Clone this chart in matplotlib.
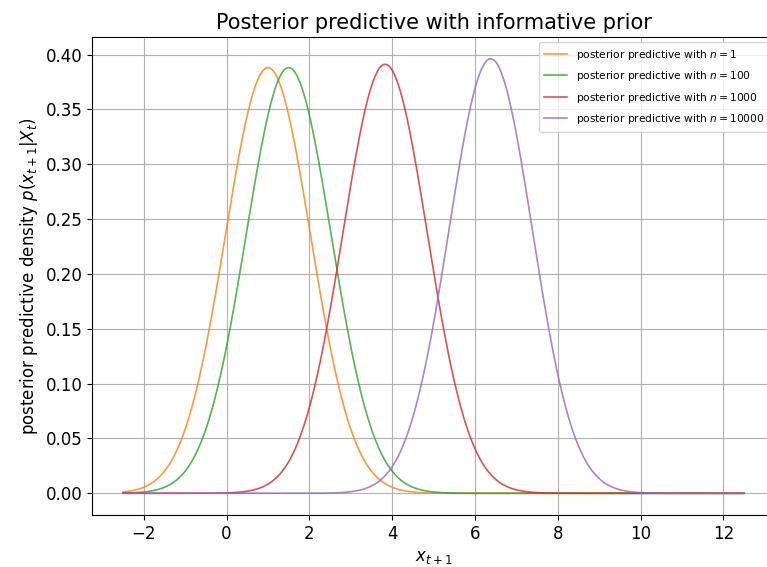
import numpy as np
import matplotlib.pyplot as plt

# posterior predictive N(mean, sd) for a growing number of observations
n_obs = [1, 100, 1000, 10000]
pred_mean = [1.0, 1.5, 3.83, 6.38]
pred_sd = [1.028, 1.028, 1.020, 1.007]
colors = ['C1', 'C2', 'C3', 'C4']

plt.rcParams['font.size'] = 12

x = np.linspace(-2.5, 12.5, 1000)

fig = plt.figure(figsize=(7.67, 5.67), dpi=100)
ax = fig.add_axes([0.12, 0.0917, 0.8905, 0.843])

for n, m, s, c in zip(n_obs, pred_mean, pred_sd, colors):
    dens = np.exp(-0.5 * ((x - m) / s) ** 2) / (s * np.sqrt(2 * np.pi))
    ax.plot(x, dens, color=c, alpha=0.8, lw=1.2,
            label=r'posterior predictive with $n=%d$' % n)

ax.grid(True)
ax.set_xticks(np.arange(-2, 13, 2))
ax.set_title('Posterior predictive with informative prior', fontsize=15)
ax.set_xlabel(r'$x_{t+1}$')
ax.set_ylabel(r'posterior predictive density $p(x_{t+1}|X_t)$')
ax.legend(loc='upper right', fontsize=7.7, labelspacing=0.7,
          handlelength=2.2, borderpad=0.5)

fig.savefig('out.png', dpi=100)
